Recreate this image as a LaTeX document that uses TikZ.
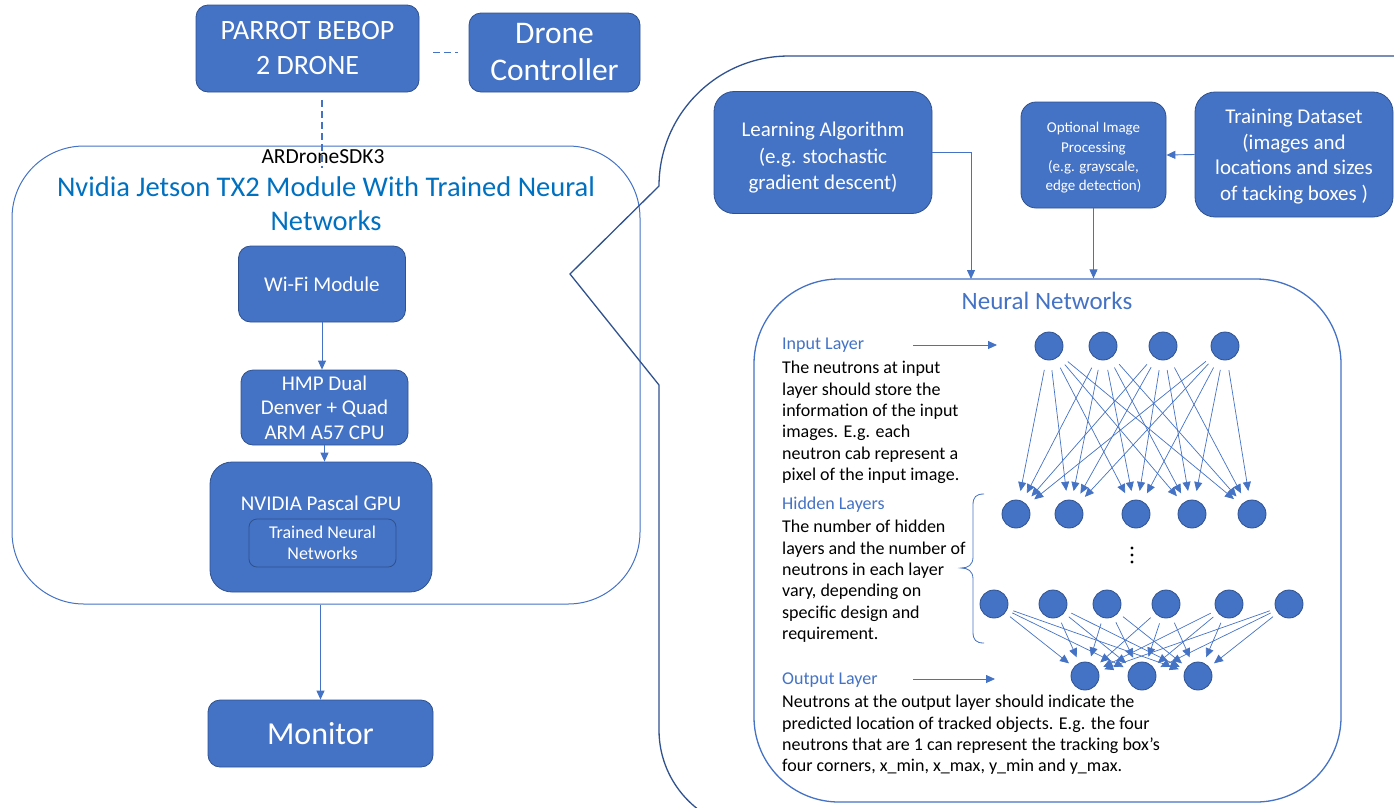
\documentclass[tikz,border=0pt]{standalone}
\usepackage{fontspec}
\setmainfont{Carlito}
\usepackage{tikz}
\usetikzlibrary{arrows.meta}
\usetikzlibrary{positioning}

\definecolor{boxblue}{HTML}{4472C4}
\definecolor{edgeblue}{HTML}{2F528F}
\definecolor{titleblue}{HTML}{0070C0}

\tikzset{
  bluebox/.style={draw=edgeblue, fill=boxblue, text=white, rounded corners=12pt,
    align=center, inner sep=2pt, line width=0.8pt},
  neuron/.style={circle, draw=edgeblue, fill=boxblue, minimum size=28pt,
    inner sep=0pt, line width=0.8pt},
  dotmark/.style={circle, fill=black, minimum size=3.2pt, inner sep=0pt},
  link/.style={draw=boxblue, line width=0.9pt, ->},
  mesh/.style={draw=boxblue, line width=0.7pt, ->, shorten <=10pt, shorten >=9pt},
  linkdash/.style={draw=boxblue, line width=1.2pt, dash pattern=on 7pt off 4pt},
  bodytext/.style={font=\fontsize{18}{21.4}\selectfont, align=left, inner sep=0pt, anchor=north west},
  layerlbl/.style={text=boxblue, font=\fontsize{18}{21.4}\selectfont, inner sep=0pt, anchor=west}
}

\begin{document}
\begin{tikzpicture}[x=1pt,y=-1pt,>={Triangle[length=9pt,width=8pt]}]
\useasboundingbox (0,0) rectangle (1394,807);
\clip (0,0) rectangle (1394,807);

\node[bluebox, minimum width=223pt, minimum height=87pt, font=\fontsize{28}{35}\selectfont] (parrot) at (307.5,48.5) {PARROT BEBOP\\2 DRONE};
\node[bluebox, minimum width=171pt, minimum height=79pt, font=\fontsize{31.5}{37}\selectfont] (ctrl) at (554.5,52.5) {Drone\\Controller};
\draw[linkdash, shorten <=14pt, shorten >=11pt] (ctrl.west -| parrot.east) -- (ctrl.west);

\node[draw=boxblue, line width=1pt, rounded corners=72pt, minimum width=628pt, minimum height=458pt] (jetson) at (326,375) {};
\node[font=\fontsize{21.5}{24}\selectfont] (sdk) at (323,157) {ARDroneSDK3};
\coordinate (sdkend) at (322,168);
\draw[linkdash, shorten <=8pt] (parrot.south -| sdkend) -- (sdkend);
\node[text=titleblue, font=\fontsize{28.5}{34}\selectfont, align=center] (jtitle) at (326,204) {Nvidia Jetson TX2 Module With Trained Neural\\Networks};

\node[bluebox, minimum width=167pt, minimum height=76pt, font=\fontsize{21}{25}\selectfont] (wifi) at (322,284) {Wi-Fi Module};
\node[bluebox, minimum width=167pt, minimum height=75pt, font=\fontsize{21}{24.5}\selectfont] (hmp) at (324.5,407.5) {HMP Dual\\Denver + Quad\\ARM A57 CPU};
\node[bluebox, rounded corners=22pt, minimum width=222pt, minimum height=130pt] (gpu) at (321,527) {};
\node[text=white, font=\fontsize{21}{25}\selectfont] (gpulbl) at (321,503) {NVIDIA Pascal GPU};
\node[bluebox, rounded corners=8pt, minimum width=147pt, minimum height=48pt, font=\fontsize{18}{21}\selectfont] (tnn) at (322.5,543) {Trained Neural\\Networks};
\node[bluebox, minimum width=225pt, minimum height=67pt, font=\fontsize{32}{36}\selectfont] (monitor) at (320.5,733.5) {Monitor};

\draw[link] (wifi.south) -- (wifi.south |- hmp.north);
\draw[link] (hmp.south) -- (hmp.south |- gpu.north);
\draw[link] (monitor.north |- jetson.south) -- (monitor.north);

\draw[edgeblue, line width=1.3pt] (1400,56) -- (789,56) arc[start angle=90, end angle=180, radius=130pt]
  -- (570,274) -- (659,385) -- (659,730) arc[start angle=180, end angle=270, radius=100pt] -- (1400,830);

\node[bluebox, rounded corners=20pt, minimum width=218pt, minimum height=122pt, font=\fontsize{21}{26.5}\selectfont] (learn) at (823,152.5) {\rule{0pt}{25pt}Learning Algorithm\\(e.g. stochastic\\gradient descent)};
\node[bluebox, rounded corners=15pt, minimum width=145pt, minimum height=106pt, font=\fontsize{15}{19.3}\selectfont] (optimg) at (1093.5,155) {\rule{0pt}{16pt}Optional Image\\Processing\\(e.g. grayscale,\\edge detection)};
\node[bluebox, rounded corners=20pt, minimum width=198pt, minimum height=125pt, font=\fontsize{21}{25.5}\selectfont] (data) at (1294,154.5) {\rule{0pt}{19pt}Training Dataset\\(images and\\locations and sizes\\of tacking boxes )};

\node[draw=boxblue, line width=1.3pt, rounded corners=85pt, minimum width=587pt, minimum height=523pt] (nn) at (1047.5,540.5) {};
\node[text=boxblue, font=\fontsize{25}{28}\selectfont] (nntitle) at (1047,301) {Neural Networks};

\coordinate (learnin) at (971,279);
\draw[link] (learn.east) -| (learnin);
\draw[link] (optimg.south) -- (optimg.south |- nn.north);
\draw[link] (data.west) -- (optimg.east);

\node[neuron] (i1) at (1049,346) {};
\node[neuron] (i2) at (1103,346) {};
\node[neuron] (i3) at (1163,346) {};
\node[neuron] (i4) at (1225,346) {};

\node[neuron] (h1) at (1016,514) {};
\node[neuron] (h2) at (1069,514) {};
\node[neuron] (h3) at (1136,514) {};
\node[neuron] (h4) at (1192,514) {};
\node[neuron] (h5) at (1252,514) {};

\node[dotmark] (d1) at (1132,548) {};
\node[dotmark] (d2) at (1132,555) {};
\node[dotmark] (d3) at (1132,562) {};

\node[neuron] (g1) at (994,604) {};
\node[neuron] (g2) at (1053,604) {};
\node[neuron] (g3) at (1107,604) {};
\node[neuron] (g4) at (1166,604) {};
\node[neuron] (g5) at (1229,604) {};
\node[neuron] (g6) at (1289,604) {};

\node[neuron] (o1) at (1085,676) {};
\node[neuron] (o2) at (1142,676) {};
\node[neuron] (o3) at (1198,676) {};

\foreach \a in {1,...,4}
  \foreach \b in {1,...,5}
    \draw[mesh] (i\a) -- (h\b);
\foreach \a in {1,...,6}
  \foreach \b in {1,...,3}
    \draw[mesh, shorten <=6pt, shorten >=6pt] (g\a) -- (o\b);

\node[layerlbl] (inlbl) at (782,345) {Input Layer};
\node[bodytext] (intxt) at (782,361) {The neutrons at input\\layer should store the\\information of the input\\images. E.g. each\\neutron cab represent a\\pixel of the input image.};
\coordinate (intail) at (913,345);
\coordinate (inhead) at (997,345);
\draw[link] (intail) -- (inhead);

\node[layerlbl] (hidlbl) at (782,505) {Hidden Layers};
\node[bodytext] (hidtxt) at (782,520) {The number of hidden\\layers and the number of\\neutrons in each layer\\vary, depending on\\specific design and\\requirement.};
\draw[boxblue, line width=0.8pt] (984,494) .. controls (976,494) and (973,497) .. (973,505) -- (973,557)
  .. controls (973,565) and (968,568) .. (961,568) .. controls (968,568) and (973,571) .. (973,579)
  -- (973,632) .. controls (973,640) and (976,643) .. (984,643);

\node[layerlbl] (outlbl) at (782,680) {Output Layer};
\node[bodytext] (outtxt) at (782,695) {Neutrons at the output layer should indicate the\\predicted location of tracked objects. E.g. the four\\neutrons that are 1 can represent the tracking box’s\\four corners, x\_min, x\_max, y\_min and y\_max.};
\coordinate (outtail) at (913,679);
\coordinate (outhead) at (995,679);
\draw[link] (outtail) -- (outhead);
\end{tikzpicture}
\end{document}
